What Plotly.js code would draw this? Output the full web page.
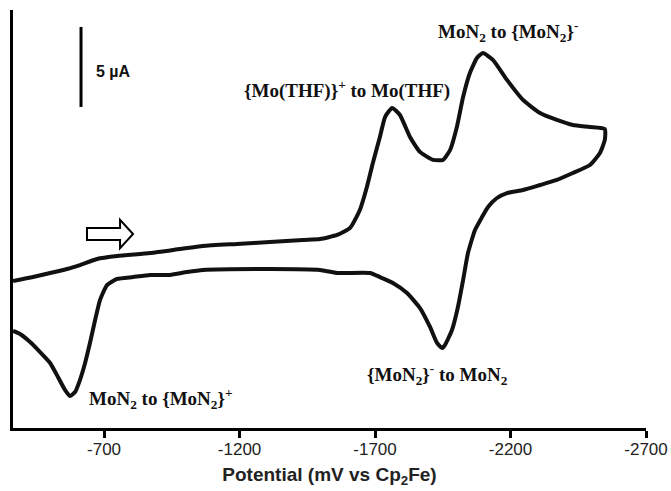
<!DOCTYPE html>
<html>
<head>
<meta charset="utf-8">
<script src="https://cdn.plot.ly/plotly-3.0.1.min.js"></script>
<style>html,body{margin:0;padding:0;background:#fff;}#chart{width:671px;height:491px;}</style>
</head>
<body>
<div id="chart"></div>
<script>
// Potential (mV vs Cp2Fe) and current (µA)
const potentialForward = [-364,-438,-501,-563,-611,-674,-748,-870,-980,-1065,-1191,-1312,-1434,-1497,-1560,-1608,-1644,-1670,-1692,-1718,-1737,-1763,-1792,-1829,-1866,-1914,-1951,-1977,-2002,-2025,-2050,-2076,-2098,-2135,-2187,-2246,-2309,-2371,-2430,-2493,-2548];
const currentForward   = [-0.69,-0.44,-0.19,0.06,0.31,0.69,0.88,1.06,1.31,1.5,1.63,1.75,1.88,1.94,2.19,2.63,3.75,5.19,6.69,8.31,9.56,10.13,9.69,8.31,7.38,6.88,6.88,7.5,8.94,10.81,12.31,13.25,13.56,13.13,11.88,10.63,9.81,9.38,9.06,8.94,8.81];
const potentialReturn = [-2548,-2530,-2493,-2430,-2371,-2309,-2246,-2187,-2150,-2117,-2095,-2069,-2043,-2025,-2006,-1984,-1958,-1947,-1929,-1903,-1866,-1818,-1766,-1718,-1681,-1560,-1497,-1312,-1065,-1006,-943,-870,-807,-748,-711,-685,-667,-648,-630,-611,-593,-574,-556,-530,-501,-464,-427,-390,-364];
const currentReturn   = [8.13,7.31,6.56,6.06,5.63,5.31,5.0,4.81,4.5,3.94,3.31,2.5,1.06,-0.63,-2.31,-3.75,-4.69,-4.88,-4.56,-3.56,-2.38,-1.44,-0.81,-0.44,-0.19,-0.19,0,0.06,0,-0.13,-0.31,-0.31,-0.44,-0.56,-0.94,-1.88,-3.13,-4.56,-5.81,-6.88,-7.63,-7.88,-7.5,-6.69,-5.81,-5.13,-4.5,-4.0,-3.81];
const tickValues = [-700,-1200,-1700,-2200,-2700];
const tickLabels = ['-700','-1200','-1700','-2200','-2700'];
const peakLabels = [
  'MoN<sub>2</sub> to {MoN<sub>2</sub>}<sup>-</sup>',
  '{Mo(THF)}<sup>+</sup> to Mo(THF)',
  '{MoN<sub>2</sub>}<sup>-</sup> to MoN<sub>2</sub>',
  'MoN<sub>2</sub> to {MoN<sub>2</sub>}<sup>+</sup>'
];
const peakLabelE = [-2191, -1596, -1929, -910];
const peakLabelI = [14.88, 11.3, -6.56, -8.0];
const scaleBarE = -615;
const scaleBarI = [10.19, 15.19]; // 5 µA
const scaleBarLabel = '5 µA';
const arrowE = [-637, -759, -807];
const arrowI = [2.25, 0.38, 0.88]; // centre, half body height, half head height

const E = potentialForward.concat(potentialReturn);
const I = currentForward.concat(currentReturn);

const trace = {
  x: E, y: I, mode: 'lines', type: 'scatter',
  line: {color: '#111', width: 4, shape: 'spline', smoothing: 0.5},
  hoverinfo: 'skip'
};

const serif = {family: 'Liberation Serif, Times New Roman, serif', size: 19, color: '#111'};
const annotations = peakLabels.map((t, k) => ({
  x: peakLabelE[k], y: peakLabelI[k], xref: 'x', yref: 'y', text: '<b>' + t + '</b>',
  showarrow: false, font: serif, xanchor: 'center', yanchor: 'middle'
}));
annotations.push({
  x: scaleBarE, y: (scaleBarI[0] + scaleBarI[1]) / 2, xref: 'x', yref: 'y',
  text: '<b>' + scaleBarLabel + '</b>', showarrow: false, xanchor: 'left', xshift: 13, yshift: -5,
  font: {family: 'Liberation Sans, Arial, sans-serif', size: 16, color: '#111'}
});

const c = arrowE, yc = arrowI[0], hb = arrowI[1], hh = arrowI[2];
const arrowPath = `M ${c[0]},${yc + hb} L ${c[1]},${yc + hb} L ${c[1]},${yc + hh} L ${c[2]},${yc} L ${c[1]},${yc - hh} L ${c[1]},${yc - hb} L ${c[0]},${yc - hb} Z`;

const layout = {
  width: 671, height: 491,
  margin: {l: 13, r: 25, t: 10, b: 63},
  paper_bgcolor: '#fff', plot_bgcolor: '#fff',
  showlegend: false,
  xaxis: {
    range: [-364, -2700], showgrid: false, zeroline: false,
    showline: true, linecolor: '#000', linewidth: 3,
    ticks: 'outside', ticklen: 7, tickwidth: 3, tickcolor: '#000',
    ticklabelstandoff: -3,
    tickvals: tickValues, ticktext: tickLabels,
    tickfont: {family: 'Liberation Sans, Arial, sans-serif', size: 17, color: '#222'},
    title: {text: '<b>Potential (mV vs Cp<sub>2</sub>Fe)</b>', standoff: 10,
            font: {family: 'Liberation Sans, Arial, sans-serif', size: 19, color: '#222'}}
  },
  yaxis: {
    range: [-9.875, 16.25], showgrid: false, zeroline: false,
    showline: true, linecolor: '#000', linewidth: 3,
    showticklabels: false, ticks: ''
  },
  shapes: [
    {type: 'line', xref: 'x', yref: 'y', x0: scaleBarE, x1: scaleBarE, y0: scaleBarI[0], y1: scaleBarI[1],
     line: {color: '#000', width: 3}},
    {type: 'path', xref: 'x', yref: 'y', path: arrowPath, fillcolor: '#fff', line: {color: '#000', width: 2}}
  ],
  annotations: annotations
};

Plotly.newPlot('chart', [trace], layout, {staticPlot: true, displayModeBar: false});
</script>
</body>
</html>
